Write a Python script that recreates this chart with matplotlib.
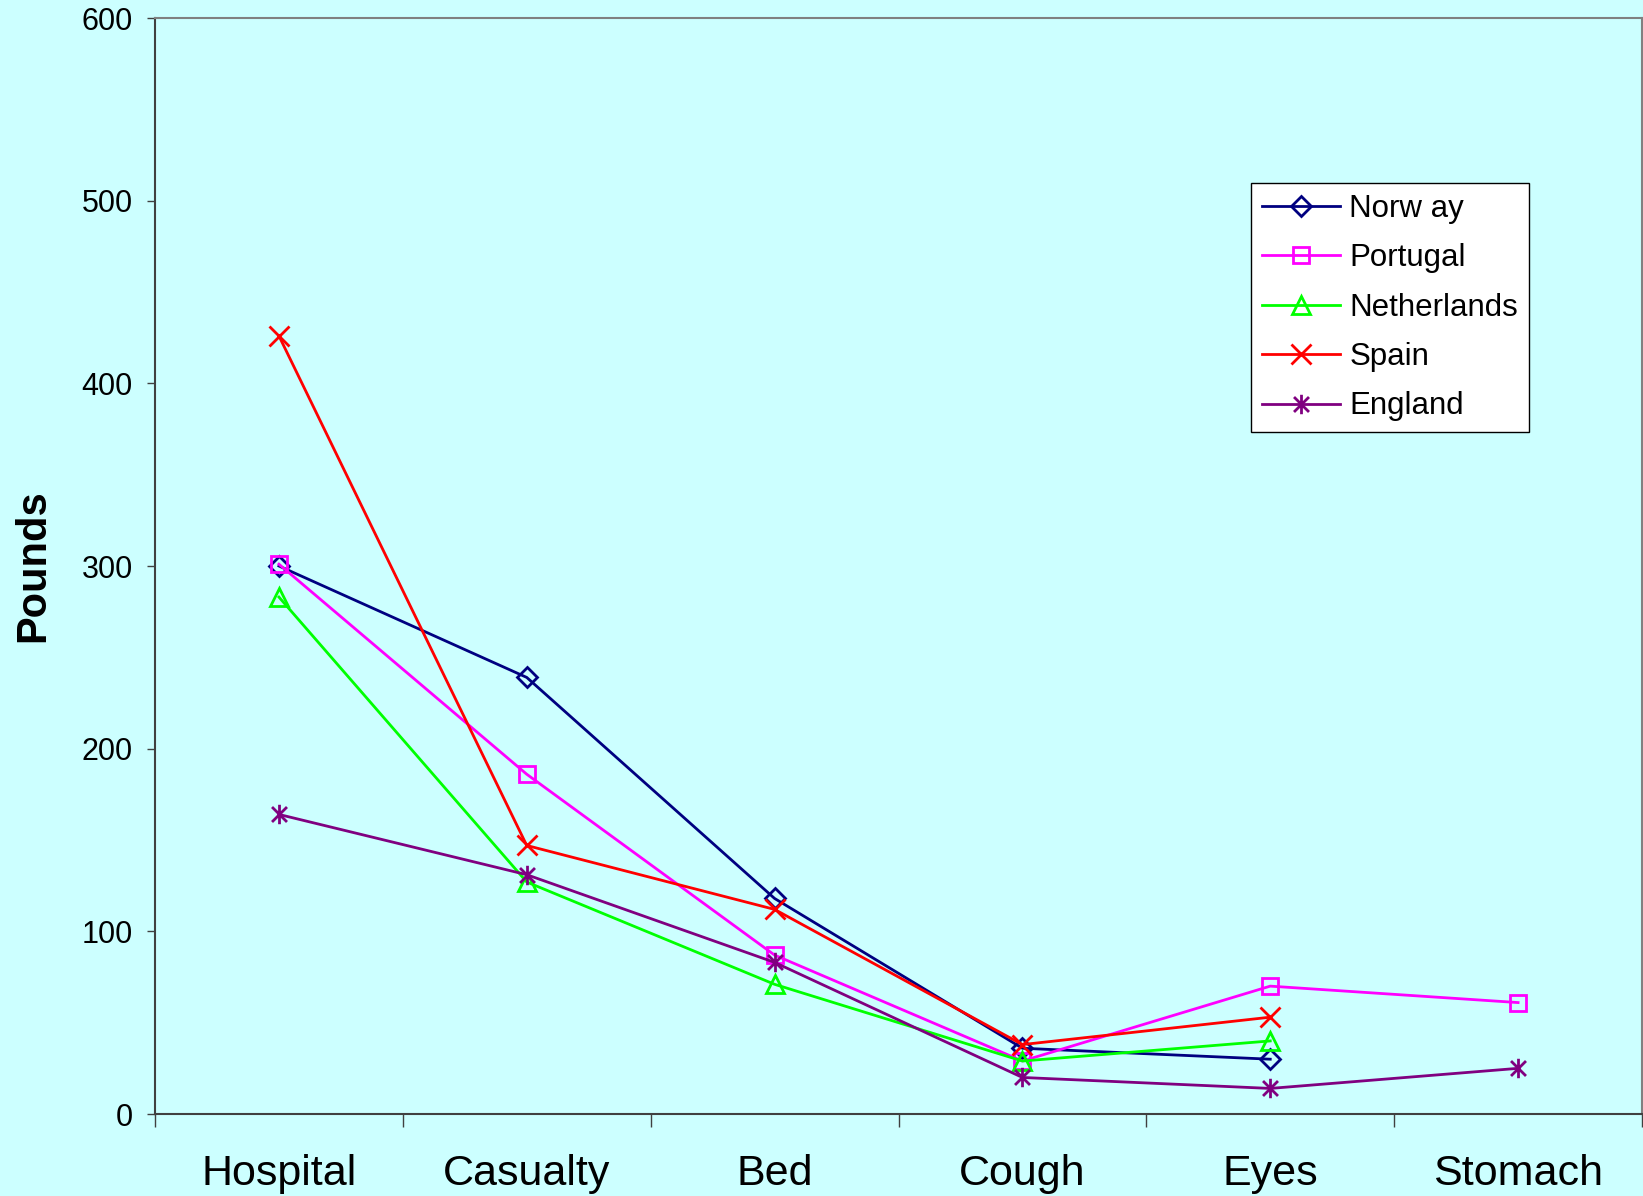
import matplotlib
matplotlib.use("Agg")
import matplotlib.pyplot as plt
import numpy as np
from matplotlib.path import Path

categories = ["Hospital", "Casualty", "Bed", "Cough", "Eyes", "Stomach"]
norway = [300, 239, 118, 36, 30, None]
portugal = [301, 186, 87, 29, 70, 61]
netherlands = [283, 127, 71, 29, 40, None]
spain = [426, 147, 112, 38, 53, None]
england = [164, 131, 83, 20, 14, 25]
series_names = ["Norw ay", "Portugal", "Netherlands", "Spain", "England"]

star = Path([(-1, -1), (1, 1), (-1, 1), (1, -1), (0, -1.3), (0, 1.3)],
            [Path.MOVETO, Path.LINETO, Path.MOVETO, Path.LINETO, Path.MOVETO, Path.LINETO])

styles = [
    dict(color="#000080", marker="D", ms=10),
    dict(color="#FF00FF", marker="s", ms=11),
    dict(color="#00FF00", marker="^", ms=13),
    dict(color="#FF0000", marker="x", ms=14),
    dict(color="#800080", marker=star, ms=14),
]

plt.rcParams['font.family'] = ['Liberation Sans', 'DejaVu Sans']
bg = "#CCFFFF"
fig = plt.figure(figsize=(16.43, 11.96), dpi=100, facecolor=bg)
ax = fig.add_axes([155/1643, 1-1114/1196, (1642-155)/1643, (1114-18)/1196])
ax.set_facecolor(bg)

x = np.arange(len(categories)) + 0.5
for name, vals, st in zip(series_names, [norway, portugal, netherlands, spain, england], styles):
    xs = [xi for xi, v in zip(x, vals) if v is not None]
    ys = [v for v in vals if v is not None]
    ax.plot(xs, ys, color=st["color"], lw=2, marker=st["marker"], ms=st["ms"],
            mfc="none", mec=st["color"], mew=2, label=name)

ax.set_xlim(0, 6)
ax.set_ylim(0, 600)
ax.set_yticks(range(0, 601, 100))
ax.set_xticks(range(0, 7))
ax.set_xticklabels([])
ax.set_xticks(x, minor=True)
ax.set_xticklabels(categories, minor=True)
ax.tick_params(axis='x', which='minor', length=0, pad=29, labelsize=31)
ax.tick_params(axis='x', which='major', length=9, width=1, color="#404040", direction='out')
ax.tick_params(axis='y', length=6, width=1, color="#404040", pad=10, labelsize=22, direction='out')
for lbl in ax.get_xticklabels(minor=True):
    lbl.set_fontsize(31)
for lbl in ax.get_yticklabels():
    lbl.set_fontsize(22)

for s in ["left", "bottom"]:
    ax.spines[s].set_color("#404040")
    ax.spines[s].set_linewidth(1.5)
for s in ["top", "right"]:
    ax.spines[s].set_color("#808080")
    ax.spines[s].set_linewidth(1.5)

ax.set_ylabel("Pounds", fontsize=30, fontweight="bold", labelpad=20)

leg = ax.legend(loc="upper left", bbox_to_anchor=(1251/1643, 1-183/1196),
                bbox_transform=fig.transFigure, fontsize=22.5, frameon=True,
                fancybox=False, edgecolor="black", facecolor="white", framealpha=1,
                handlelength=2.5, labelspacing=0.62, borderpad=0.35, handletextpad=0.3,
                borderaxespad=0)
leg.get_frame().set_linewidth(1)

fig.savefig("out.png", dpi=100, facecolor=bg)
